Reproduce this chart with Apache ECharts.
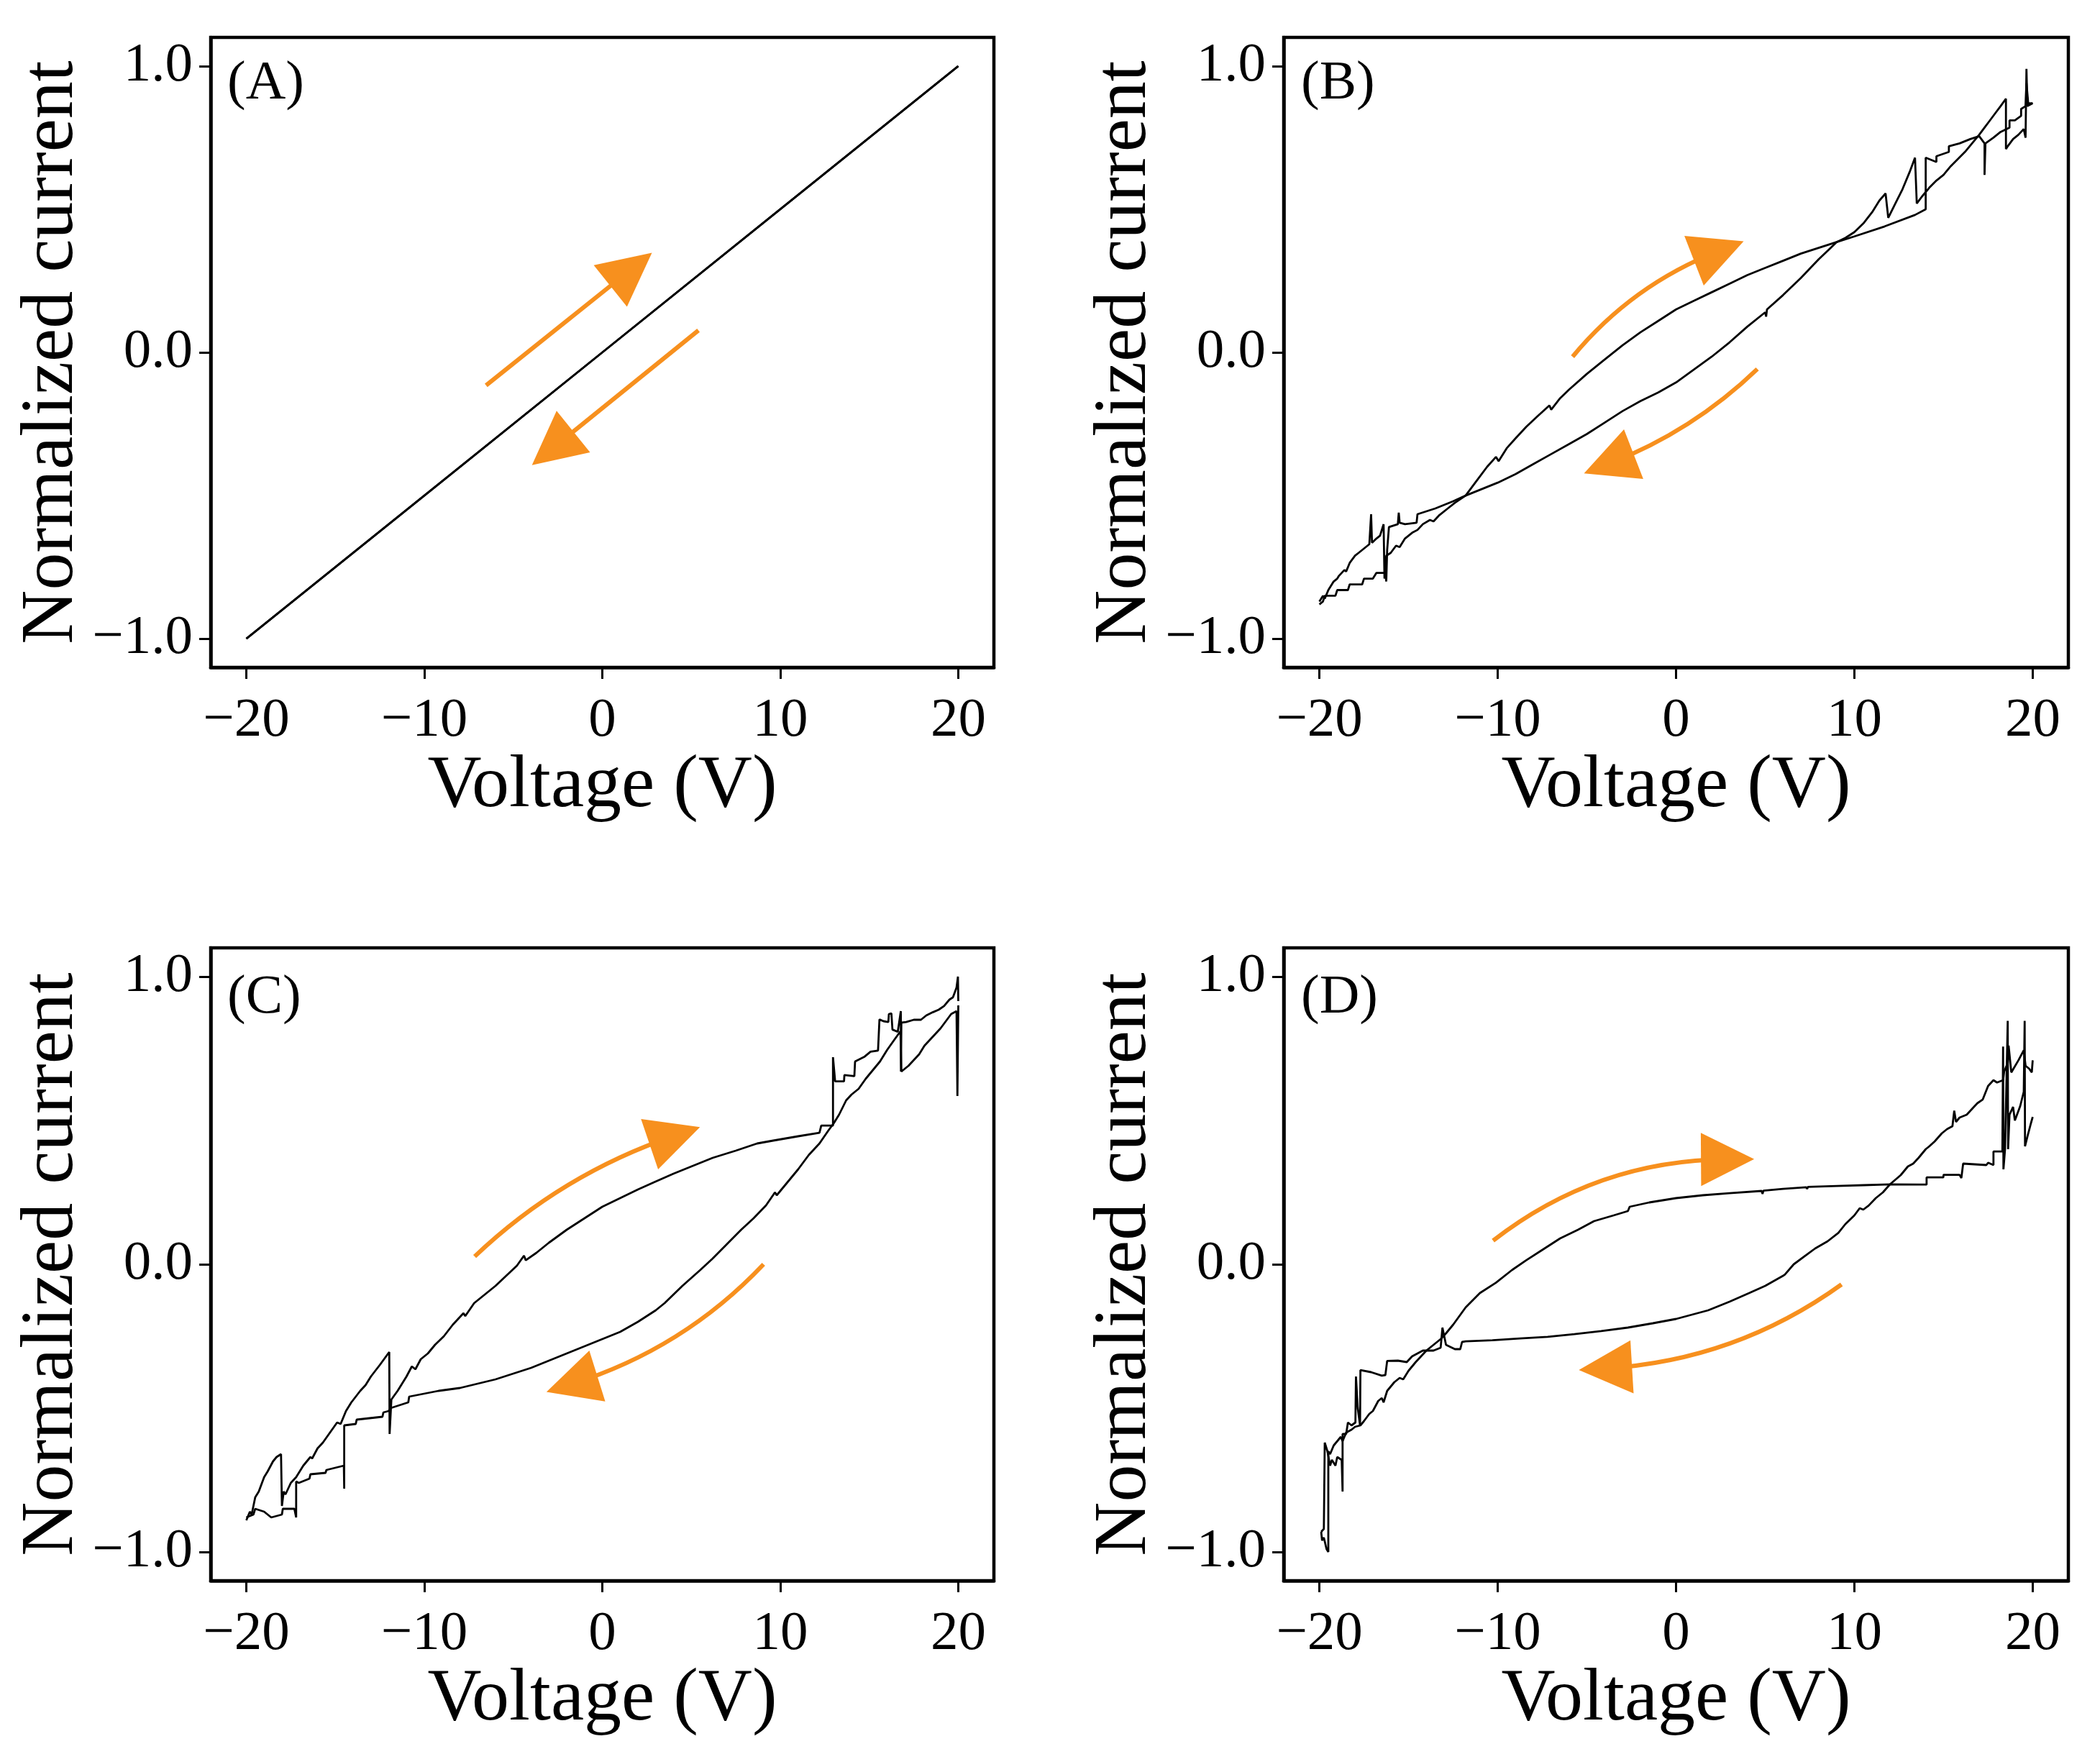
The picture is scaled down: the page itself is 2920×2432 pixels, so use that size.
<!DOCTYPE html>
<html><head><meta charset="utf-8">
<script src="https://cdn.jsdelivr.net/npm/echarts@6/dist/echarts.min.js"></script>
<style>html,body{margin:0;padding:0;background:#fff}#c{width:2920px;height:2432px}</style>
</head><body><div id="c"></div>
<script>
const xTicks = [-20, -10, 0, 10, 20];
const yTicks = [-1, 0, 1];
const panelLabels = ['(A)', '(B)', '(C)', '(D)'];
const xName = 'Voltage (V)';
const yName = 'Normalized current';

// Panel A
const aForward = [[-20,-1.0],[-10,-0.5],[0,0.0],[10,0.5],[20,1.0]];
const aBackward = [[20,1.0],[10,0.5],[0,0.0],[-10,-0.5],[-20,-1.0]];

// Panel B
const bForward = [[-20,-0.87],[-19.8,-0.85],[-19.7,-0.86],[-19.5,-0.83],[-19.2,-0.80],[-19.0,-0.79],[-18.9,-0.78],[-18.6,-0.76],[-18.5,-0.765],[-18.3,-0.735],[-18.0,-0.71],[-17.8,-0.70],[-17.6,-0.69],[-17.4,-0.68],[-17.2,-0.67],[-17.1,-0.565],[-17.05,-0.665],[-16.8,-0.65],[-16.6,-0.64],[-16.5,-0.62],[-16.4,-0.60],[-16.35,-0.79],[-16.25,-0.71],[-16.0,-0.70],[-15.7,-0.675],[-15.5,-0.68],[-15.2,-0.65],[-14.8,-0.63],[-14.5,-0.62],[-14.2,-0.60],[-13.8,-0.585],[-13.6,-0.59],[-13.3,-0.57],[-12.8,-0.545],[-12.4,-0.525],[-11.8,-0.50],[-11.2,-0.45],[-10.6,-0.40],[-10.1,-0.365],[-9.95,-0.38],[-9.5,-0.335],[-9.0,-0.30],[-8.4,-0.26],[-7.8,-0.225],[-7.1,-0.185],[-7.0,-0.20],[-6.5,-0.16],[-6.0,-0.13],[-5.0,-0.075],[-4.0,-0.025],[-3.0,0.025],[-2.0,0.07],[-1.0,0.11],[0,0.15],[1.0,0.18],[2.0,0.21],[3.0,0.24],[4.0,0.27],[5.0,0.295],[6.0,0.32],[7.0,0.345],[8.0,0.365],[9.0,0.385],[10.0,0.405],[11.7,0.44],[13.4,0.48],[14.0,0.50],[14.0,0.68],[14.6,0.665],[14.6,0.685],[15.3,0.70],[15.3,0.72],[15.9,0.73],[16.5,0.745],[17.0,0.755],[17.3,0.73],[17.3,0.62],[17.35,0.73],[17.8,0.75],[18.2,0.77],[18.7,0.785],[18.7,0.81],[19.0,0.81],[19.35,0.826],[19.35,0.85],[19.6,0.86],[19.65,0.94],[19.75,0.87],[20,0.87]];
const bBackward = [[20,0.87],[19.7,0.86],[19.65,0.99],[19.6,0.75],[19.5,0.78],[19.2,0.76],[18.9,0.745],[18.6,0.72],[18.5,0.71],[18.5,0.886],[18.2,0.86],[17.9,0.835],[17.6,0.81],[17.3,0.785],[17.0,0.76],[16.6,0.73],[16.2,0.70],[15.8,0.675],[15.4,0.65],[15.0,0.62],[14.6,0.60],[14.2,0.575],[13.8,0.545],[13.5,0.52],[13.4,0.68],[13.1,0.63],[12.7,0.57],[12.3,0.52],[11.9,0.47],[11.75,0.555],[11.4,0.53],[11.0,0.49],[10.5,0.45],[10.0,0.42],[9.5,0.40],[9.0,0.385],[8.5,0.355],[8.0,0.325],[7.0,0.26],[6.0,0.20],[5.1,0.15],[5.05,0.125],[5.0,0.14],[4.0,0.09],[3.0,0.035],[2.0,-0.015],[1.0,-0.06],[0,-0.105],[-1.0,-0.14],[-2.0,-0.17],[-3.0,-0.205],[-4.0,-0.245],[-5.0,-0.285],[-6.0,-0.32],[-7.0,-0.355],[-8.0,-0.39],[-9.0,-0.425],[-10.0,-0.455],[-11.0,-0.48],[-11.8,-0.50],[-12.5,-0.52],[-13.5,-0.545],[-14.5,-0.565],[-14.55,-0.595],[-15.2,-0.60],[-15.5,-0.595],[-15.55,-0.56],[-15.6,-0.60],[-16.1,-0.61],[-16.2,-0.69],[-16.25,-0.80],[-16.3,-0.77],[-16.8,-0.77],[-17.0,-0.79],[-17.5,-0.79],[-17.6,-0.81],[-18.3,-0.81],[-18.4,-0.83],[-19.0,-0.83],[-19.1,-0.85],[-19.7,-0.85],[-19.8,-0.87],[-20,-0.88]];

// Panel C
const cForward = [[-20,-0.89],[-19.8,-0.86],[-19.7,-0.87],[-19.5,-0.81],[-19.3,-0.79],[-19.0,-0.74],[-18.8,-0.72],[-18.5,-0.685],[-18.3,-0.67],[-18.05,-0.66],[-18.0,-0.84],[-17.9,-0.79],[-17.8,-0.80],[-17.5,-0.76],[-17.2,-0.74],[-16.8,-0.70],[-16.4,-0.67],[-16.3,-0.675],[-16.0,-0.64],[-15.7,-0.62],[-15.3,-0.585],[-14.9,-0.55],[-14.7,-0.555],[-14.4,-0.51],[-14.1,-0.48],[-13.6,-0.44],[-13.3,-0.42],[-13.0,-0.39],[-12.5,-0.35],[-11.97,-0.305],[-11.95,-0.59],[-11.85,-0.47],[-11.5,-0.44],[-11.0,-0.39],[-10.7,-0.355],[-10.5,-0.365],[-10.2,-0.33],[-9.8,-0.31],[-9.4,-0.28],[-8.9,-0.25],[-8.4,-0.21],[-7.8,-0.17],[-7.7,-0.18],[-7.2,-0.135],[-6.5,-0.10],[-6.0,-0.075],[-5.4,-0.04],[-4.8,-0.005],[-4.4,0.03],[-4.3,0.014],[-3.7,0.04],[-3.0,0.075],[-2.0,0.12],[-1.0,0.16],[0,0.20],[1.0,0.23],[2.0,0.26],[2.9,0.285],[4.0,0.315],[5.0,0.34],[6.2,0.37],[7.5,0.395],[8.7,0.42],[9.6,0.43],[11.0,0.445],[12.2,0.457],[12.3,0.482],[12.96,0.482],[12.96,0.72],[13.08,0.636],[13.58,0.636],[13.6,0.658],[14.16,0.654],[14.2,0.705],[14.74,0.722],[15.07,0.739],[15.49,0.743],[15.57,0.851],[15.8,0.845],[16.07,0.842],[16.1,0.87],[16.24,0.872],[16.3,0.816],[16.6,0.808],[16.77,0.88],[16.78,0.67],[16.8,0.84],[17.07,0.842],[17.5,0.85],[17.9,0.85],[18.2,0.865],[18.56,0.876],[18.9,0.885],[19.2,0.898],[19.5,0.92],[19.7,0.928],[19.9,0.962],[19.98,1.0],[20,0.915]];
const cBackward = [[20,0.90],[19.95,0.585],[19.9,0.88],[19.6,0.87],[19.3,0.845],[19.0,0.82],[18.7,0.80],[18.4,0.78],[18.1,0.76],[17.8,0.73],[17.5,0.71],[17.2,0.69],[17.0,0.68],[16.8,0.67],[16.75,0.81],[16.4,0.78],[16.0,0.745],[15.6,0.705],[15.2,0.675],[14.8,0.645],[14.4,0.61],[14.0,0.59],[13.7,0.57],[13.3,0.52],[13.0,0.49],[12.7,0.465],[12.2,0.42],[11.6,0.38],[11.0,0.33],[10.4,0.285],[9.8,0.24],[9.7,0.25],[9.2,0.205],[8.5,0.16],[7.8,0.12],[7.0,0.07],[6.2,0.02],[5.5,-0.02],[4.5,-0.075],[3.5,-0.135],[3.0,-0.16],[2.0,-0.20],[1.0,-0.235],[0,-0.26],[-1.0,-0.285],[-2.0,-0.31],[-3.0,-0.335],[-4.0,-0.36],[-5.0,-0.38],[-6.0,-0.40],[-7.0,-0.415],[-8.0,-0.43],[-9.2,-0.44],[-10.85,-0.46],[-10.9,-0.48],[-11.9,-0.50],[-12.0,-0.51],[-12.3,-0.515],[-12.35,-0.53],[-13.8,-0.54],[-13.85,-0.555],[-14.5,-0.56],[-14.5,-0.78],[-14.52,-0.70],[-15.5,-0.715],[-15.55,-0.725],[-16.4,-0.73],[-16.45,-0.745],[-17.05,-0.76],[-17.2,-0.755],[-17.2,-0.88],[-17.3,-0.85],[-17.95,-0.85],[-18.0,-0.87],[-18.6,-0.88],[-19.0,-0.86],[-19.5,-0.85],[-19.6,-0.87],[-20,-0.88]];

// Panel D
const dForward = [[-19.9,-0.93],[-19.85,-0.96],[-19.75,-0.95],[-19.6,-0.99],[-19.5,-1.0],[-19.5,-0.65],[-19.4,-0.66],[-19.2,-0.63],[-19.0,-0.615],[-18.8,-0.60],[-18.7,-0.615],[-18.5,-0.585],[-18.2,-0.575],[-18.0,-0.565],[-17.7,-0.56],[-17.5,-0.545],[-17.2,-0.52],[-17.0,-0.51],[-16.7,-0.475],[-16.5,-0.465],[-16.4,-0.48],[-16.2,-0.44],[-15.8,-0.41],[-15.5,-0.395],[-15.3,-0.40],[-15.0,-0.37],[-14.6,-0.34],[-14.3,-0.32],[-14.0,-0.30],[-13.6,-0.28],[-13.2,-0.26],[-12.9,-0.24],[-12.5,-0.21],[-11.8,-0.15],[-11.0,-0.10],[-10.1,-0.064],[-9.2,-0.02],[-8.4,0.014],[-7.5,0.05],[-6.5,0.09],[-5.5,0.12],[-4.6,0.15],[-3.5,0.17],[-2.7,0.185],[-2.6,0.20],[-1.5,0.215],[0,0.23],[1.5,0.24],[3.0,0.247],[4.8,0.255],[4.85,0.245],[4.9,0.256],[6.0,0.262],[7.3,0.268],[7.35,0.262],[7.4,0.269],[9.0,0.272],[10.5,0.275],[12.0,0.278],[13.65,0.277],[14.05,0.277],[14.05,0.302],[14.99,0.302],[15.0,0.311],[15.9,0.311],[16.0,0.30],[16.1,0.35],[17.4,0.345],[17.5,0.353],[17.8,0.345],[17.8,0.392],[18.3,0.392],[18.34,0.757],[18.36,0.33],[18.45,0.40],[18.6,0.846],[18.62,0.40],[18.7,0.52],[18.9,0.547],[19.0,0.50],[19.3,0.55],[19.5,0.60],[19.55,0.846],[19.57,0.41],[19.7,0.443],[19.9,0.49],[20,0.512]];
const dBackward = [[20,0.709],[19.95,0.667],[19.8,0.68],[19.6,0.69],[19.5,0.744],[19.2,0.709],[18.8,0.667],[18.65,0.76],[18.6,0.70],[18.4,0.67],[18.34,0.64],[18.0,0.632],[17.8,0.64],[17.5,0.62],[17.2,0.573],[16.9,0.56],[16.7,0.547],[16.3,0.52],[15.9,0.51],[15.7,0.495],[15.6,0.534],[15.5,0.48],[15.2,0.47],[14.9,0.455],[14.5,0.427],[14.2,0.41],[14.0,0.40],[13.6,0.37],[13.3,0.35],[13.0,0.34],[12.6,0.31],[12.0,0.278],[11.6,0.25],[11.2,0.23],[10.8,0.204],[10.5,0.19],[10.3,0.195],[10.0,0.17],[9.5,0.14],[9.1,0.109],[8.5,0.08],[7.8,0.055],[7.3,0.032],[6.6,0.0],[6.1,-0.036],[6.0,-0.04],[5.0,-0.075],[4.1,-0.10],[3.0,-0.13],[1.8,-0.16],[0.9,-0.175],[0,-0.19],[-1.3,-0.205],[-2.7,-0.22],[-4.2,-0.232],[-5.7,-0.243],[-7.2,-0.252],[-8.75,-0.258],[-10.3,-0.264],[-11.8,-0.268],[-12.0,-0.27],[-12.1,-0.295],[-12.4,-0.295],[-12.9,-0.28],[-13.1,-0.22],[-13.2,-0.29],[-13.6,-0.30],[-14.2,-0.30],[-14.5,-0.31],[-14.8,-0.32],[-15.1,-0.34],[-15.6,-0.335],[-16.2,-0.336],[-16.3,-0.385],[-16.5,-0.387],[-17.1,-0.375],[-17.7,-0.368],[-17.72,-0.56],[-17.85,-0.50],[-17.95,-0.39],[-17.98,-0.55],[-18.2,-0.56],[-18.4,-0.55],[-18.5,-0.59],[-18.7,-0.59],[-18.7,-0.79],[-18.75,-0.68],[-19.0,-0.67],[-19.1,-0.70],[-19.3,-0.68],[-19.4,-0.70],[-19.55,-0.65],[-19.7,-0.62],[-19.75,-0.92],[-19.9,-0.93]];

// Sweep-direction arrows: [tail, head] in data units
const arrowsA = [[[-6.53,-0.115],[1.62,0.29]], [[5.4,0.077],[-2.79,-0.335]]];
const arrowsB = [[[-5.8,-0.015],[2.4,0.354]], [[4.56,-0.058],[-3.77,-0.389]]];
const arrowsC = [[[-7.17,0.027],[4.07,0.447]], [[9.06,0.0],[-1.71,-0.416]]];
const arrowsD = [[[-10.26,0.082],[2.89,0.365]], [[9.28,-0.07],[-3.96,-0.362]]];
const arrowBend = [[0,0],[0.13,0.10],[0.11,0.13],[0.17,0.145]];

const FONT = 'Liberation Serif';
const ORANGE = '#F7901E';
const grids = [
  {left:293, top:52, width:1089, height:876},
  {left:1785, top:52, width:1091, height:876},
  {left:293, top:1318, width:1089, height:880},
  {left:1785, top:1318, width:1091, height:880}
];
const labelPos = [[316,78],[1809,78],[316,1349],[1809,1349]];
const fmtX = v => v < 0 ? '\u2212' + Math.abs(v) : String(v);
const fmtY = v => { const s = Math.abs(v).toFixed(1); return v < 0 ? '\u2212' + s : s; };

const curves = [[aForward,aBackward],[bForward,bBackward],[cForward,cBackward],[dForward,dBackward]];
const arrows = [arrowsA, arrowsB, arrowsC, arrowsD];

const series = [];
curves.forEach((pair, i) => {
  pair.forEach(d => series.push({
    type:'line', xAxisIndex:i, yAxisIndex:i, data:d, showSymbol:false, symbol:'none',
    lineStyle:{color:'#000', width:2.8}, silent:true, z:2
  }));
  series.push({
    type:'lines', coordinateSystem:'cartesian2d', xAxisIndex:i, yAxisIndex:i,
    symbol:['none','triangle'], symbolSize:[70,74], silent:true, z:3,
    lineStyle:{color:ORANGE, width:6, opacity:1},
    data: arrows[i].map((a,k) => ({coords:a, lineStyle:{curveness:arrowBend[i][k]}}))
  });
});

const option = {
  animation:false,
  backgroundColor:'#fff',
  title: panelLabels.map((t,i) => ({text:t, left:labelPos[i][0], top:labelPos[i][1], padding:0,
    textStyle:{fontFamily:FONT, fontSize:77, fontWeight:'normal', color:'#000'}})),
  grid: grids.map(g => Object.assign({show:true, borderColor:'#000', borderWidth:4.5, backgroundColor:'transparent'}, g)),
  xAxis: grids.map((g,i) => ({
    type:'value', gridIndex:i, min:-22, max:22, name:xName, nameLocation:'middle', nameGap:112,
    nameTextStyle:{fontFamily:FONT, fontSize:104, color:'#000'},
    axisLine:{show:true, onZero:false, lineStyle:{color:'#000', width:4.5}},
    axisTick:{show:true, length:16, customValues:xTicks, lineStyle:{color:'#000', width:3}},
    axisLabel:{customValues:xTicks, formatter:fmtX, margin:36, fontFamily:FONT, fontSize:77, color:'#000'},
    splitLine:{show:false}
  })),
  yAxis: grids.map((g,i) => ({
    type:'value', gridIndex:i, min:-1.1, max:1.1, name:yName, nameLocation:'middle', nameGap:164,
    nameTextStyle:{fontFamily:FONT, fontSize:104, color:'#000'},
    axisLine:{show:true, onZero:false, lineStyle:{color:'#000', width:4.5}},
    axisTick:{show:true, length:16, customValues:yTicks, lineStyle:{color:'#000', width:3}},
    axisLabel:{customValues:yTicks, formatter:fmtY, margin:25, fontFamily:FONT, fontSize:77, color:'#000'},
    splitLine:{show:false}
  })),
  series
};
const chart = echarts.init(document.getElementById('c'));
chart.setOption(option);
</script></body></html>
